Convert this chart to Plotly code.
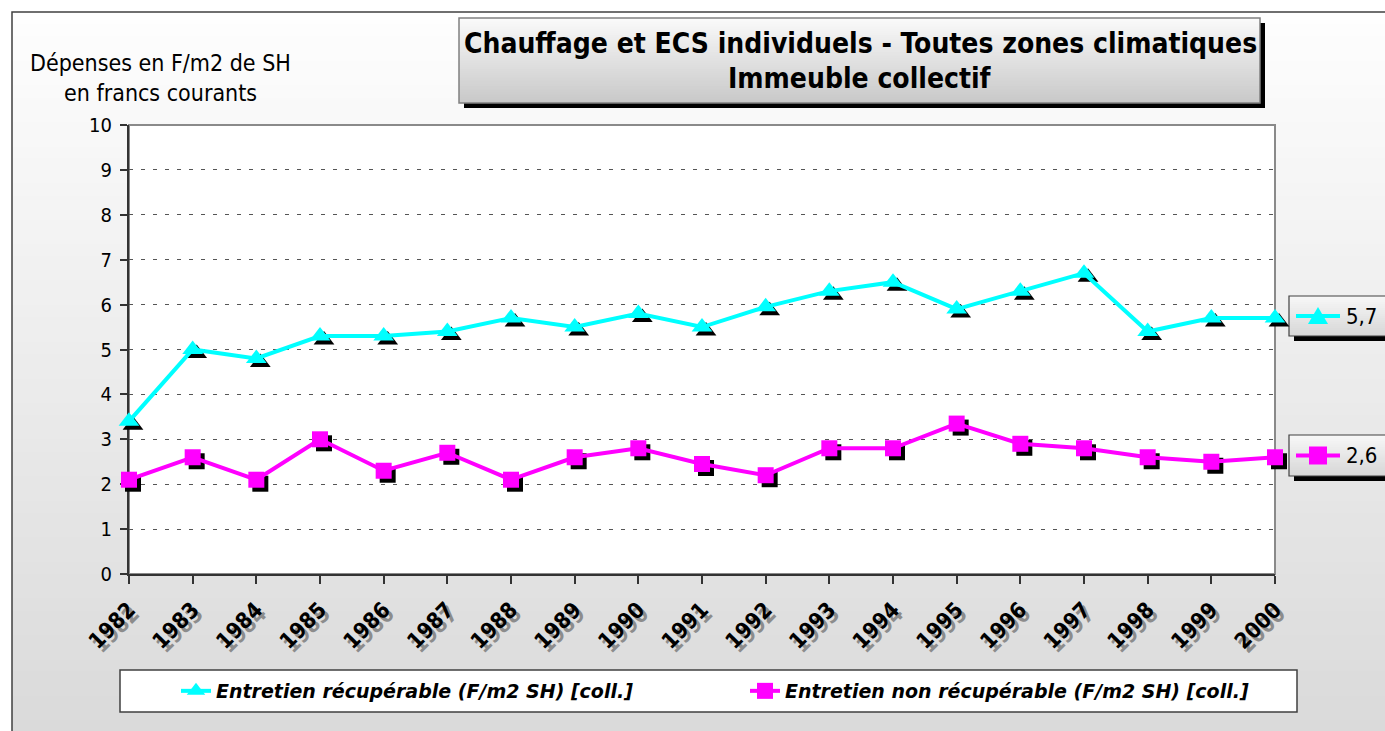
import plotly.graph_objects as go

# ---------------- data ----------------
years = ["1982", "1983", "1984", "1985", "1986", "1987", "1988", "1989", "1990", "1991",
         "1992", "1993", "1994", "1995", "1996", "1997", "1998", "1999", "2000"]
recup = [3.4, 5.0, 4.8, 5.3, 5.3, 5.4, 5.7, 5.5, 5.8, 5.5,
         5.95, 6.3, 6.5, 5.9, 6.3, 6.7, 5.4, 5.7, 5.7]
nonrecup = [2.1, 2.6, 2.1, 3.0, 2.3, 2.7, 2.1, 2.6, 2.8, 2.45,
            2.2, 2.8, 2.8, 3.35, 2.9, 2.8, 2.6, 2.5, 2.6]
name_recup = "Entretien récupérable (F/m2 SH) [coll.]"
name_nonrecup = "Entretien non récupérable (F/m2 SH) [coll.]"
title_lines = ["Chauffage et ECS individuels - Toutes zones climatiques", "Immeuble collectif"]
ytitle_lines = ["Dépenses en F/m2 de SH", "en francs courants"]
ytick_vals = [0, 1, 2, 3, 4, 5, 6, 7, 8, 9, 10]

# ---------------- geometry / style ----------------
W, H = 1385, 731
L, T = 129, 125
R = W - 1279
B = H - 578
PW = W - L - R
PH = H - T - B
SH = 4  # shadow offset px

CYAN = "#00ffff"
MAGENTA = "#ff00ff"
FONT = "DejaVu Sans Condensed, DejaVu Sans, sans-serif"


def px(x):
    return (x - L) / PW


def py(y):
    return (H - B - y) / PH


def hexc(v):
    v = int(round(v))
    return "#%02x%02x%02x" % (v, v, v)


shapes = []


def gradient(x0, y0, x1, y1, g_top, g_bot, n):
    # overlapping bands (each runs to the bottom) -> no seams
    for i in range(n):
        ya = y0 + (y1 - y0) * i / n
        g = g_top + (g_bot - g_top) * (i + 0.5) / n
        shapes.append(dict(type="rect", xref="paper", yref="paper",
                           x0=px(x0), x1=px(x1), y0=py(ya), y1=py(y1),
                           fillcolor=hexc(g), line=dict(width=0), layer="below"))


def rect(x0, y0, x1, y1, fill=None, line_color=None, lw=1.5):
    shapes.append(dict(type="rect", xref="paper", yref="paper",
                       x0=px(x0), x1=px(x1), y0=py(y0), y1=py(y1),
                       fillcolor=fill if fill else "rgba(0,0,0,0)",
                       line=dict(color=line_color if line_color else "rgba(0,0,0,0)",
                                 width=lw if line_color else 0),
                       layer="below"))


# chart background gradient + border
gradient(12, 12, 1400, 745, 254, 217, 60)
rect(12, 12, 1400, 745, line_color="#404040", lw=1.5)

# white plot area
rect(129, 125, 1275, 574, fill="#ffffff")

# title box
rect(464, 23, 1265, 108, fill="#000000")
gradient(459, 18, 1260, 103, 250, 200, 40)
rect(459, 18, 1260, 103, line_color="#808080", lw=1.5)

# legend box
rect(120, 670, 1297, 712, fill="#ffffff", line_color="#404040", lw=1.5)

# right value labels
label_boxes = [(296, 336, CYAN, "triangle", recup[-1]), (435, 476, MAGENTA, "square", nonrecup[-1])]
annotations = []
for (ya, yb, col, sym, val) in label_boxes:
    rect(1294, ya + 5, 1400, yb + 5, fill="#000000")
    gradient(1289, ya, 1400, yb, 248, 214, 20)
    rect(1289, ya, 1400, yb, line_color="#404040", lw=1.2)
    yc = (ya + yb) / 2
    shapes.append(dict(type="line", xref="paper", yref="paper",
                       x0=px(1296), x1=px(1340), y0=py(yc), y1=py(yc),
                       line=dict(color=col, width=4), layer="above"))
    if sym == "triangle":
        path = "M %f,%f L %f,%f L %f,%f Z" % (px(1308), py(yc + 8), px(1328), py(yc + 8),
                                               px(1318), py(yc - 9))
        shapes.append(dict(type="path", xref="paper", yref="paper", path=path,
                           fillcolor=col, line=dict(width=0), layer="above"))
    else:
        shapes.append(dict(type="rect", xref="paper", yref="paper",
                           x0=px(1309), x1=px(1327), y0=py(yc + 9), y1=py(yc - 9),
                           fillcolor=col, line=dict(width=0), layer="above"))
    annotations.append(dict(xref="paper", yref="paper", x=px(1344), y=py(yc),
                            xanchor="left", yanchor="middle", showarrow=False,
                            text=("%.1f" % val).replace(".", ","),
                            font=dict(family=FONT, size=22, color="#000000")))

# plot border (top/right gray)
shapes.append(dict(type="rect", xref="x domain", yref="y domain", x0=0, x1=1, y0=0, y1=1,
                   line=dict(color="#8a8a8a", width=2), layer="below"))

# titles
annotations.append(dict(xref="paper", yref="paper", x=px(860), y=py(44), showarrow=False,
                        xanchor="center", yanchor="middle", text="<b>%s</b>" % title_lines[0],
                        font=dict(family=FONT, size=28, color="#000000")))
annotations.append(dict(xref="paper", yref="paper", x=px(860), y=py(79), showarrow=False,
                        xanchor="center", yanchor="middle", text="<b>%s</b>" % title_lines[1],
                        font=dict(family=FONT, size=28, color="#000000")))
annotations.append(dict(xref="paper", yref="paper", x=px(160), y=py(63), showarrow=False,
                        xanchor="center", yanchor="middle", text=ytitle_lines[0],
                        font=dict(family=FONT, size=23, color="#000000")))
annotations.append(dict(xref="paper", yref="paper", x=px(160), y=py(93), showarrow=False,
                        xanchor="center", yanchor="middle", text=ytitle_lines[1],
                        font=dict(family=FONT, size=23, color="#000000")))

fig = go.Figure()

tri = dict(symbol="triangle-up", size=18)
sq = dict(symbol="square", size=16)

# shadows (subplot 2, shifted down-right)
fig.add_trace(go.Scatter(x=years, y=recup, mode="markers", xaxis="x2", yaxis="y2",
                         marker=dict(color="#000000", **tri), showlegend=False,
                         hoverinfo="skip", cliponaxis=False))
fig.add_trace(go.Scatter(x=years, y=nonrecup, mode="markers", xaxis="x2", yaxis="y2",
                         marker=dict(color="#000000", **sq), showlegend=False,
                         hoverinfo="skip", cliponaxis=False))
# main series (subplot 3)
fig.add_trace(go.Scatter(x=years, y=recup, mode="lines+markers", xaxis="x3", yaxis="y3",
                         name=name_recup, line=dict(color=CYAN, width=4),
                         marker=dict(color=CYAN, **tri), cliponaxis=False))
fig.add_trace(go.Scatter(x=years, y=nonrecup, mode="lines+markers", xaxis="x3", yaxis="y3",
                         name=name_nonrecup, line=dict(color=MAGENTA, width=4),
                         marker=dict(color=MAGENTA, **sq), cliponaxis=False))
# invisible trace to activate subplot 1 (axes/grid)
fig.add_trace(go.Scatter(x=years, y=[None] * len(years), mode="lines", xaxis="x", yaxis="y",
                         showlegend=False, hoverinfo="skip"))

main_xdom = [0, (PW - SH) / PW]
main_ydom = [SH / PH, 1]
sh_xdom = [SH / PW, 1]
sh_ydom = [0, (PH - SH) / PH]

xr = [0, len(years) - 1]
yr = [0, 10]

common_x = dict(type="category", range=xr, categoryorder="array", categoryarray=years,
                fixedrange=True, showgrid=False, zeroline=False)

fig.update_layout(
    width=W, height=H,
    margin=dict(l=L, r=R, t=T, b=B),
    paper_bgcolor="#ffffff",
    plot_bgcolor="rgba(0,0,0,0)",
    showlegend=True,
    xaxis=dict(common_x, domain=main_xdom, anchor="y", showline=True, linecolor="#333333",
               linewidth=2, ticks="outside", ticklen=8, tickwidth=1.5, tickcolor="#333333",
               showticklabels=False),
    yaxis=dict(domain=main_ydom, anchor="x", range=yr, tickmode="array", tickvals=ytick_vals,
               showline=True, linecolor="#333333", linewidth=2, ticks="outside", ticklen=7,
               tickwidth=1.5, tickcolor="#333333", showgrid=True, gridcolor="#555555",
               griddash="4px,8px", gridwidth=1, zeroline=False, fixedrange=True,
               tickfont=dict(family=FONT, size=20, color="#000000"), ticklabelstandoff=4),
    xaxis2=dict(common_x, domain=sh_xdom, anchor="y2", showline=False, ticks="outside",
                ticklen=13, tickcolor="rgba(0,0,0,0)", tickangle=-45,
                tickfont=dict(family=FONT, size=22, color="#8c8c8c", weight="bold")),
    yaxis2=dict(domain=sh_ydom, anchor="x2", range=yr, visible=False, fixedrange=True),
    xaxis3=dict(common_x, domain=main_xdom, anchor="y3", showline=False, ticks="outside",
                ticklen=13, tickcolor="rgba(0,0,0,0)", tickangle=-45,
                tickfont=dict(family=FONT, size=22, color="#000000", weight="bold")),
    yaxis3=dict(domain=main_ydom, anchor="x3", range=yr, visible=False, fixedrange=True),
    legend=dict(orientation="h", xref="container", yref="container",
                x=176 / W, y=1 - 691 / H, xanchor="left", yanchor="middle",
                bgcolor="rgba(0,0,0,0)", borderwidth=0,
                entrywidth=524, entrywidthmode="pixels",
                font=dict(family="DejaVu Sans, sans-serif", size=19, color="#000000",
                          weight="bold", style="italic")),
    shapes=shapes,
    annotations=annotations,
)

fig.write_html("out.html", config={"displayModeBar": False},
               post_script="document.body.style.margin='0';")
